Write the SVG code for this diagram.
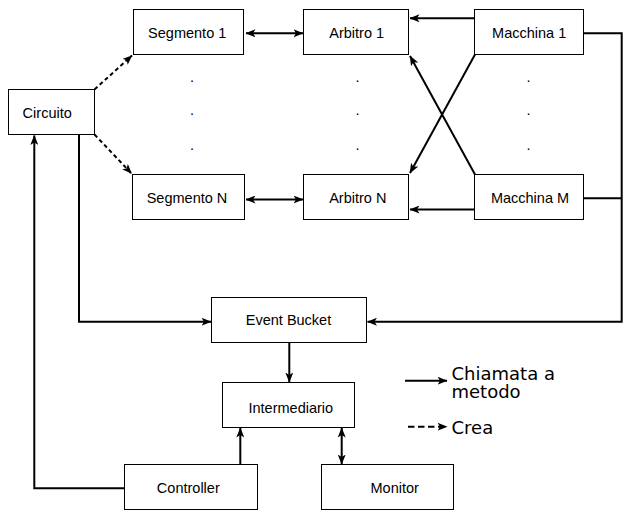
<svg xmlns="http://www.w3.org/2000/svg" width="632" height="519" viewBox="0 0 632 519">
  <style>
    .box { fill: #ffffff; stroke: #000000; stroke-width: 1; }
    .lbl { font-family: "Liberation Sans", Arial, sans-serif; font-size: 14.5px; fill: #000000; text-anchor: middle; }
    .dot { font-family: "Liberation Sans", Arial, sans-serif; font-size: 14.5px; fill: #000000; text-anchor: middle; }
    .leg { font-family: "DejaVu Sans", Verdana, sans-serif; font-size: 18px; fill: #000000; }
    .call { fill: none; stroke: #000000; stroke-width: 2; }
    .make { fill: none; stroke: #000000; stroke-width: 2; stroke-dasharray: 4 3; }
    .make-key { fill: none; stroke: #000000; stroke-width: 2; stroke-dasharray: 6.5 3.5; }
  </style>
  <defs>
    <marker id="head" viewBox="0 0 10 8" refX="9.5" refY="4" markerWidth="10" markerHeight="8" markerUnits="userSpaceOnUse" orient="auto-start-reverse">
      <path d="M0,0 L10,4 L0,8 L2.5,4 Z" fill="#000000"/>
    </marker>
  </defs>

  <rect width="632" height="519" fill="#ffffff"/>

  <!-- connectors -->
  <g id="connectors">
    <!-- creation links from Circuito -->
    <path class="make" d="M94.5,89.5 L132,55.5" marker-end="url(#head)"/>
    <path class="make" d="M94.5,134.5 L131.5,173.5" marker-end="url(#head)"/>
    <!-- segment <-> arbiter -->
    <path class="call" d="M246,33.3 L303,33.3" marker-start="url(#head)" marker-end="url(#head)"/>
    <path class="call" d="M246,199.5 L303,199.5" marker-start="url(#head)" marker-end="url(#head)"/>
    <!-- machines -> arbiters -->
    <path class="call" d="M474.5,18.3 L410,18.3" marker-end="url(#head)"/>
    <path class="call" d="M474.5,209.5 L410,209.5" marker-end="url(#head)"/>
    <path class="call" d="M475,54.5 L410,173" marker-end="url(#head)"/>
    <path class="call" d="M475,174.5 L410,56" marker-end="url(#head)"/>
    <!-- machines -> Event Bucket -->
    <path class="call" d="M583.5,33.3 H621.7 V321.7 H367.5" marker-end="url(#head)"/>
    <path class="call" d="M583.5,198.3 H621.7"/>
    <!-- Circuito -> Event Bucket -->
    <path class="call" d="M79,134.5 V321.7 H211" marker-end="url(#head)"/>
    <!-- Controller -> Circuito -->
    <path class="call" d="M124.5,488.3 H34.3 V135.5" marker-end="url(#head)"/>
    <!-- Event Bucket -> Intermediario -->
    <path class="call" d="M289.3,342.5 V382" marker-end="url(#head)"/>
    <!-- Controller -> Intermediario -->
    <path class="call" d="M240.3,464.5 V428" marker-end="url(#head)"/>
    <!-- Intermediario <-> Monitor -->
    <path class="call" d="M341.7,428 V464" marker-start="url(#head)" marker-end="url(#head)"/>
  </g>

  <!-- nodes -->
  <g id="circuito">
    <rect class="box" x="8.5" y="89.5" width="86" height="45"/>
    <text class="lbl" x="47.2" y="118">Circuito</text>
  </g>
  <g id="segmento-1">
    <rect class="box" x="133.5" y="9.5" width="110" height="45"/>
    <text class="lbl" x="187.2" y="38">Segmento 1</text>
  </g>
  <g id="segmento-n">
    <rect class="box" x="132.5" y="174.5" width="112" height="45"/>
    <text class="lbl" x="187" y="202.5">Segmento N</text>
  </g>
  <g id="arbitro-1">
    <rect class="box" x="303.5" y="9.5" width="105" height="45"/>
    <text class="lbl" x="356.7" y="38">Arbitro 1</text>
  </g>
  <g id="arbitro-n">
    <rect class="box" x="303.5" y="174.5" width="105" height="45"/>
    <text class="lbl" x="357.8" y="202.5">Arbitro N</text>
  </g>
  <g id="macchina-1">
    <rect class="box" x="474.5" y="9.5" width="109" height="45"/>
    <text class="lbl" x="529.2" y="38">Macchina 1</text>
  </g>
  <g id="macchina-m">
    <rect class="box" x="474.5" y="174.5" width="109" height="45"/>
    <text class="lbl" x="530" y="202.5">Macchina M</text>
  </g>
  <g id="event-bucket">
    <rect class="box" x="211.5" y="297.5" width="155" height="45"/>
    <text class="lbl" x="288.5" y="325">Event Bucket</text>
  </g>
  <g id="intermediario">
    <rect class="box" x="222.5" y="382.5" width="132" height="45"/>
    <text class="lbl" x="290.8" y="413">Intermediario</text>
  </g>
  <g id="controller">
    <rect class="box" x="124.5" y="464.5" width="133" height="45"/>
    <text class="lbl" x="188.3" y="493">Controller</text>
  </g>
  <g id="monitor">
    <rect class="box" x="321.5" y="464.5" width="132" height="45"/>
    <text class="lbl" x="394.7" y="493">Monitor</text>
  </g>

  <!-- ellipsis dots between the first and last rows -->
  <g id="ellipsis">
    <text class="dot" x="192" y="81.5">.</text>
    <text class="dot" x="192" y="114.5">.</text>
    <text class="dot" x="192" y="149.5">.</text>
    <text class="dot" x="357.5" y="81.5">.</text>
    <text class="dot" x="357.5" y="114.5">.</text>
    <text class="dot" x="357.5" y="149.5">.</text>
    <text class="dot" x="528.5" y="81.5">.</text>
    <text class="dot" x="528.5" y="114.5">.</text>
    <text class="dot" x="528.5" y="149.5">.</text>
  </g>

  <!-- legend -->
  <g id="legend">
    <path class="call" d="M405,380.7 H447" marker-end="url(#head)"/>
    <text class="leg" x="451.5" y="379.5">Chiamata a<tspan x="451.5" dy="18">metodo</tspan></text>
    <path class="make-key" d="M408,426.7 H447" marker-end="url(#head)"/>
    <text class="leg" x="451.5" y="433.5">Crea</text>
  </g>
</svg>
